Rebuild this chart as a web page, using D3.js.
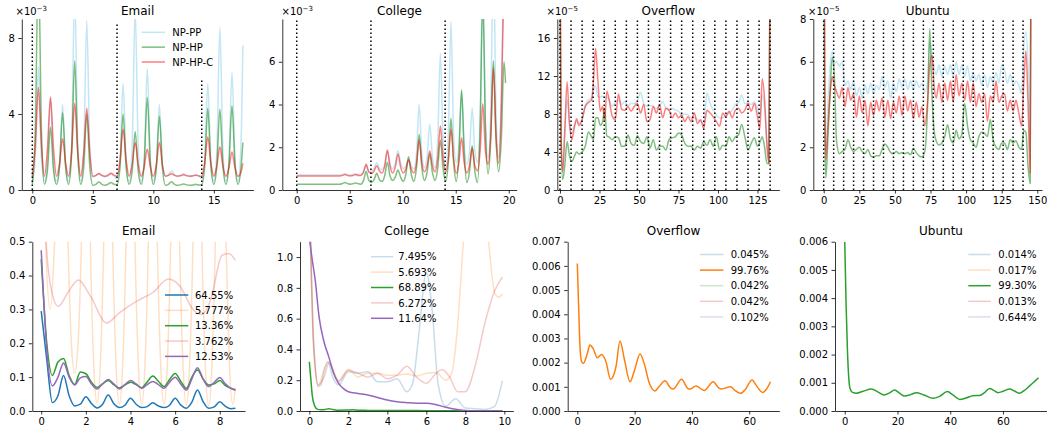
<!DOCTYPE html>
<html><head><meta charset="utf-8">
<script src="https://cdn.jsdelivr.net/npm/d3@7"></script>
<style>body{margin:0;background:#fff} svg{display:block} text{font-family:"DejaVu Sans",sans-serif;fill:#000}</style>
</head><body><script>
// ---------------- DATA ----------------
const topSeriesNames = ["NP-PP","NP-HP","NP-HP-C"];
const titles = ["Email","College","Overflow","Ubuntu"];

// Email (top), values x1e-3
const emailTopX = [0,0.25,0.5,0.75,1,1.25,1.5,1.75,2,2.25,2.5,2.75,3,3.25,3.5,3.75,4,4.25,4.5,4.75,5,5.25,5.5,5.75,6,6.25,6.5,6.75,7,7.25,7.5,7.75,8,8.25,8.5,8.75,9,9.25,9.5,9.75,10,10.25,10.5,10.75,11,11.25,11.5,11.75,12,12.25,12.5,12.75,13,13.25,13.5,13.75,14,14.25,14.5,14.75,15,15.25,15.5,15.75,16,16.25,16.5,16.75,17,17.25,17.4];
const emailTopPP = [0.45,1.66,6.5,1.66, 0.45,1.32,4.8,1.32, 0.45,1.26,4.5,1.26, 0.45,2.46,10.5,2.46, 0.45,2.14,8.9,2.14, 0.7,0.74,0.9,0.74, 0.7,0.73,0.85,0.73, 0.6,1.6,5.6,1.6, 0.45,2.26,9.5,2.26, 0.45,1.64,6.4,1.64, 0.45,1.26,4.5,1.26, 0.75,0.8,1.0,0.8, 0.75,0.77,0.85,0.77, 0.75,0.76,0.8,0.76, 0.6,1.6,5.6,1.6, 0.45,2.07,8.56,2.07, 0.45,1.6,6.2,1.6, 0.45,2.5,7.6];
const emailTopHP = [0.3,3.2,12,3.2, 0.3,1.05,3.3,1.05, 0.3,1.24,4.07,1.24, 0.3,1.93,6.8,1.93, 0.3,1.23,4.0,1.23, 0.25,0.3,0.42,0.3, 0.25,0.3,0.4,0.3, 0.28,1.21,4.0,1.21, 0.3,0.99,3.07,0.99, 0.3,1.45,4.88,1.45, 0.3,1.2,3.9,1.2, 0.25,0.3,0.44,0.3, 0.25,0.27,0.32,0.27, 0.25,0.26,0.3,0.26, 0.28,1.3,4.3,1.3, 0.3,1.29,4.26,1.29, 0.3,1.34,4.44,1.34, 0.3,1.2,2.5];
const emailTopHPC = [0.72,2.36,5.4,2.36, 0.72,2.18,4.9,2.18, 0.72,1.41,2.7,1.41, 0.72,2.06,4.56,2.06, 0.72,1.97,4.3,1.97, 0.72,0.77,0.85,0.77, 0.72,0.78,0.88,0.78, 0.72,1.59,3.2,1.59, 0.72,1.34,2.5,1.34, 0.72,1.22,2.16,1.22, 0.72,1.34,2.5,1.34, 0.72,0.77,0.85,0.77, 0.72,0.75,0.8,0.75, 0.72,0.74,0.78,0.74, 0.72,1.45,2.8,1.45, 0.72,1.27,2.28,1.27, 0.72,1.17,2.0,1.17, 0.72,0.95,1.4];
const emailWeekX = [0,7,14];
const emailWeekTop = [8.74,8.74,5.84];

// College (top), values x1e-3
const collegeTopX = [0,1,2,3, 4.05,4.3,4.55,4.8, 5.05,5.3,5.55,5.8, 6.05,6.3,6.55,6.8, 7.05,7.3,7.55,7.8, 8.05,8.3,8.55,8.8, 9.05,9.3,9.55,9.8, 10.05,10.3,10.55,10.8, 11.05,11.3,11.55,11.8, 12.05,12.3,12.55,12.8, 13.05,13.3,13.55,13.8, 14.05,14.3,14.55,14.8, 15.05,15.3,15.55,15.8, 16.05,16.3,16.55,16.8, 17.05,17.3,17.55,17.8, 18.05,18.3,18.55,18.8, 19.05,19.3,19.55,19.7];
const collegeTopPP = [0.7,0.7,0.7,0.7, 0.7,0.72,0.76,0.72, 0.7,0.72,0.75,0.72, 0.72,0.85,1.15,0.85, 0.9,1.01,1.28,1.01, 0.95,1.2,1.8,1.2, 1.0,1.25,1.84,1.25, 1.0,1.13,1.44,1.13, 1.0,1.7,4.0,1.7, 1.05,1.55,3.08,1.55, 1.05,2.3,6.4,2.3, 1.0,2.6,7.9,2.6, 1.3,2.1,4.6,2.1, 1.2,1.85,3.83,1.85, 1.3,3.3,10,3.3, 1.5,3.7,11,3.7, 1.5,4.5,11,12];
const collegeTopHP = [0.27,0.27,0.27,0.27, 0.27,0.3,0.35,0.3, 0.27,0.29,0.33,0.29, 0.27,0.45,0.86,0.45, 0.35,0.48,0.78,0.48, 0.4,0.67,1.3,0.67, 0.45,0.6,0.94,0.6, 0.4,0.75,1.56,0.75, 0.4,1.06,2.6,1.06, 0.45,0.83,1.7,0.83, 0.45,1.02,2.34,1.02, 0.4,1.29,3.36,1.29, 0.4,1.69,4.69,1.69, 0.35,0.87,2.08,0.87, 0.35,2.95,9,2.95, 0.75,2.34,6.05,2.34, 0.85,2.4,6.0,5];
const collegeTopHPC = [0.66,0.66,0.66,0.66, 0.66,0.68,0.72,0.68, 0.66,0.68,0.72,0.68, 0.68,0.84,1.2,0.84, 0.78,0.89,1.14,0.89, 0.8,1.12,1.87,1.12, 0.8,1.07,1.69,1.07, 0.8,0.98,1.4,0.98, 0.8,1.26,2.34,1.26, 0.85,1.14,1.83,1.14, 0.85,1.5,3.0,1.5, 0.85,1.45,2.84,1.45, 0.78,1.28,2.45,1.28, 0.8,1.15,1.95,1.15, 0.9,1.84,4.03,1.84, 1.2,2.56,5.73,2.56, 1.25,3.9,10,12];
const collegeWeekX = [0,7,14];
const collegeWeekTop = [8,8,8];

// Overflow (top), values x1e-5
const overflowTopX = [0,0.7,1.7,3,4.5,6,7.5,9,10.5,12,14,16,18,20,21.2,22.5,24,25.5,27,28.3,29.6,31,33,35,37,39,41,43,45,47,49,51,53,55,57,59,61,63,65,67,69,71,73,75,77,79,81,83,85,87,89,91,93,95,97,99,101,103,105,107,109,111,113,115,117,119,121,123,125,126.5,128,129.5,131,132.2,133];
const overflowTopPP = [25,6,2.2,6,9.5,7,6,6.8,7.2,7.0, 7.5,8.8,9.5,9.6,10.5,11,9.8,9.8,9.9,9.7, 9.8,9.5,8.8,9.2,9.5,9.0,9.3,8.9,9.1,9.1, 9.4,10.3,9.1,8.8,8.9,8.8,8.6,8.9,9.3,8.6, 8.4,8.6,8.4,8.3,7.9,8.0,7.9,7.6,7.6,7.4, 7.2,7.0,10.2,9.1,8.4,7.9,7.6,7.6,7.9,8.1, 8.4,9.0,9.2,10.0,9.1,9.2,9.0,9.3,8.6, 7.7,10,8.5,5,3,25];
const overflowTopHP = [25,5,1.1,2.5,5.1,3.6,3.0,3.5,4.0,3.8, 4.0,4.6,6.1,5.6,5.3,7.6,7.6,6.8,7.2,8.6, 5.7,5.6,5.3,5.6,5.5,4.6,4.6,5.8,4.9,4.7, 5.7,5.1,4.9,5.6,4.4,5.3,4.2,4.6,4.6,4.2, 5.3,5.5,5.6,6.0,5.8,4.9,4.6,4.6,4.2,4.6, 4.4,5.1,4.7,5.3,4.6,5.6,4.2,4.7,4.6,5.6, 5.1,5.6,5.8,6.9,5.6,4.2,4.9,5.5,4.6, 5.0,5.6,4.5,2.8,2.8,25];
const overflowTopHPC = [25,6,1.9,6,11.4,7,5.3,6.5,7.5,6.8, 7.4,8.8,9.2,9.5,11.5,14.9,11.5,8.3,8.8,7.3, 10.4,9.6,7.8,7.4,10.1,8.5,8.4,8.8,8.3,8.8, 9.1,8.1,9.0,7.2,7.4,8.8,8.1,9.0,7.6,8.6, 8.4,7.6,8.1,7.6,7.9,7.2,7.7,7.2,8.1,7.0, 7.4,6.5,8.4,8.1,7.7,7.2,6.7,8.1,7.7,8.3, 7.6,8.4,8.6,8.1,8.4,9.1,8.3,9.1,7.7, 6.4,11.7,9.5,4.6,2.8,25];
const overflowWeekX = [0,7,14,21,28,35,42,49,56,63,70,77,84,91,98,105,112,119,126,133];

// Ubuntu (top), values x1e-5
const ubuntuTopX = [0,0.7,1.5,3,4.5,6,7.5,9, 11,13,15,17,19,21,23,25,27,29,31,33,35,37,39,41,43,45,47,49,51,53,55,57,59,61,63,65,67,69,71, 73,74.5,76,77.5, 79,81,83,85,87,89,91,93,95,97,99,101,103,105,107,109,111,113,115,117,119,121,123,125,127,129,131,133,135,137,139, 140.5,142,143.5,145,146];
const ubuntuTopPP = [20,6,1.8,4.0,5.8,6.5,5.9,6.0, 5.8,6.0,4.9,5.1,4.7,5.1,4.4,4.8,4.3,4.9,4.5,5.0,4.5,4.9,4.7,5.3,4.8,5.1,4.3,5.0,4.6,5.2,4.8,5.2,4.7,5.1,4.7,5.1,4.8,5.0,4.6, 5.1,6.9,6.3,5.7, 5.4,5.85,5.3,5.8,5.4,5.85,5.3,6.0,5.4,5.85,5.3,5.8,5.1,5.5,5.1,5.4,4.9,5.4,4.8,5.3,5.0,5.5,5.0,5.85,5.6,5.0,5.4,4.9,5.1,4.9,4.5, 6.7,7.4,5.8,1.5,20];
const ubuntuTopHP = [20,3,0.55,2.5,4.6,6.2,5.3,2.3, 1.7,1.8,1.9,2.35,2.0,1.8,1.9,2.0,1.8,1.7,1.9,1.6,1.55,1.6,1.6,1.9,2.15,2.0,1.75,1.7,1.8,1.7,1.75,1.7,1.75,1.65,1.95,1.75,1.6,1.55,1.8, 4.0,7.55,4.5,2.8, 2.3,2.1,2.2,2.5,3.05,2.4,2.2,2.8,2.4,2.6,4.05,3.0,2.35,2.2,2.0,2.5,2.7,2.65,2.5,3.3,2.35,2.0,1.9,2.2,2.2,1.9,2.35,2.2,2.3,2.0,1.9, 2.8,2.7,1.1,0.3,20];
const ubuntuTopHPC = [20,6,1.4,3.0,4.5,5.3,4.9,4.6, 4.3,4.8,3.9,4.8,4.2,4.5,3.4,4.4,3.6,4.2,3.0,4.1,3.5,4.2,3.7,4.3,3.4,4.2,3.35,4.1,3.6,4.4,3.5,4.4,3.7,4.2,3.35,4.1,3.4,3.9,3.0, 4.2,5.8,6.3,4.9, 4.3,5.0,4.1,5.0,4.2,5.1,4.1,5.4,4.4,5.0,4.2,5.1,4.1,5.0,3.9,4.5,4.1,4.5,3.2,4.4,4.1,5.1,4.1,4.4,4.5,3.7,4.2,3.7,4.2,3.6,3.0, 5.0,6.5,4.0,0.8,20];
const ubuntuWeekX = [0,7,14,21,28,35,42,49,56,63,70,77,84,91,98,105,112,119,126,133,140];

// Bottom row
const emailShares = ["64.55%","5.777%","13.36%","3.762%","12.53%"];
const collegeShares = ["7.495%","5.693%","68.89%","6.272%","11.64%"];
const overflowShares = ["0.045%","99.76%","0.042%","0.042%","0.102%"];
const ubuntuShares = ["0.014%","0.017%","99.30%","0.013%","0.644%"];

const emailBotX = [0,0.25,0.5,0.75,1,1.25,1.5,1.75,2,2.25,2.5,2.75,3,3.25,3.5,3.75,4,4.25,4.5,4.75,5,5.25,5.5,5.75,6,6.25,6.5,6.75,7,7.25,7.5,7.75,8,8.25,8.5,8.7];
const emailBotBlue = [0.295,0.15,0.025,0.045,0.105,0.045,0.015,0.02,0.042,0.022,0.009,0.02,0.047,0.022,0.01,0.017,0.038,0.02,0.01,0.013,0.024,0.015,0.01,0.017,0.038,0.018,0.008,0.026,0.062,0.028,0.008,0.012,0.027,0.014,0.007,0.008];
const emailBotGreen = [0.448,0.2,0.105,0.145,0.155,0.105,0.078,0.115,0.11,0.085,0.07,0.08,0.09,0.078,0.068,0.077,0.085,0.078,0.069,0.086,0.103,0.088,0.072,0.093,0.111,0.088,0.067,0.1,0.121,0.095,0.077,0.08,0.09,0.075,0.067,0.062];
const emailBotPurple = [0.475,0.18,0.074,0.1,0.142,0.1,0.077,0.098,0.102,0.08,0.065,0.08,0.093,0.08,0.065,0.078,0.09,0.08,0.067,0.078,0.087,0.078,0.067,0.085,0.1,0.08,0.062,0.095,0.128,0.095,0.072,0.085,0.099,0.08,0.067,0.062];
const emailBotRedX = [0,0.22,0.45,0.76,1.2,1.66,2.2,2.93,3.5,4.3,5.0,5.7,6.2,6.8,7.2,7.6,8.1,8.4,8.7];
const emailBotRed = [0.9,0.5,0.36,0.309,0.35,0.387,0.34,0.26,0.29,0.325,0.35,0.39,0.37,0.3,0.285,0.33,0.46,0.465,0.445];
const emailBotOrangeX = [0,0.2,0.4,0.6,0.95,1.2,1.35,1.5,1.65,1.8,2.0,2.2,2.35,2.5,2.65,2.8,3.0,3.2,3.35,3.5,3.65,3.8,4.0,4.2,4.35,4.5,4.65,4.8,5.0,5.2,5.35,5.5,5.65,5.8,6.0,6.2,6.35,6.5,6.65,6.8,7.0,7.2,7.35,7.5,7.65,7.8,8.0,8.28,8.43,8.58,8.7];
const emailBotOrange = [1.3,0.5,0.3,0.5,1.4,0.5,0.2,0.112,0.2,0.5,1.4,0.5,0.14,0.024,0.14,0.5,1.4,0.5,0.14,0.02,0.14,0.5,1.4,0.5,0.14,0.02,0.14,0.5,1.4,0.5,0.14,0.02,0.14,0.5,1.4,0.5,0.14,0.018,0.14,0.5,1.4,0.5,0.14,0.016,0.14,0.5,1.4,0.5,0.14,0.02,0.07];

const collegeBotPurpleX = [0,0.15,0.3,0.5,0.75,1.0,1.25,1.5,1.75,2.0,2.5,3.0,3.5,4.0,4.5,5.0,5.5,6.0,6.5,7.0,7.5,8.0,8.5,9.0,9.5,9.9];
const collegeBotPurple = [1.12,0.98,0.85,0.61,0.45,0.35,0.244,0.18,0.145,0.125,0.114,0.104,0.088,0.071,0.06,0.054,0.05,0.05,0.041,0.024,0.011,0.004,0.002,0.002,0.002,0.002];
const collegeBotGreenX = [0,0.08,0.15,0.25,0.4,0.6,0.8,1.0,1.2,1.5,2.0,2.2,2.5,3,4,5,6,7,8,9,9.9];
const collegeBotGreen = [0.32,0.2,0.1,0.04,0.012,0.008,0.01,0.015,0.01,0.005,0.006,0.008,0.005,0.004,0.003,0.003,0.002,0.002,0.001,0.001,0.001];
const collegeBotBlueX = [0,0.1,0.2,0.3,0.45,0.6,0.75,0.95,1.2,1.5,2.0,2.5,3.0,3.5,4.0,4.5,5.0,5.3,5.6,6.0,6.3,6.6,7.0,7.5,8.0,8.5,9.0,9.5,9.9];
const collegeBotBlue = [1.5,0.9,0.5,0.3,0.16,0.17,0.26,0.32,0.22,0.17,0.255,0.245,0.255,0.19,0.19,0.21,0.125,0.18,0.48,0.9,0.655,0.18,0.03,0.08,0.02,0.015,0.01,0.03,0.197];
const collegeBotRedX = [0,0.1,0.2,0.45,0.75,1.0,1.5,2.0,2.5,3.0,3.5,4.0,4.5,5.0,5.5,6.0,6.5,6.8,7.2,7.6,8.0,8.5,9.0,9.5,9.9];
const collegeBotRed = [1.5,0.9,0.48,0.17,0.22,0.31,0.19,0.265,0.245,0.22,0.245,0.21,0.233,0.29,0.22,0.18,0.245,0.27,0.22,0.125,0.125,0.29,0.57,0.78,0.87];
const collegeBotOrangeX = [0,0.1,0.2,0.45,0.75,1.0,1.5,2.0,2.5,3.0,3.5,4.0,4.5,5.0,5.5,6.0,6.5,7.0,7.3,7.6,7.9,8.5,9.2,9.5,9.7,9.9];
const collegeBotOrange = [1.5,0.9,0.44,0.16,0.27,0.32,0.2,0.27,0.22,0.245,0.245,0.233,0.233,0.24,0.227,0.245,0.25,0.2,0.245,0.55,1.1,1.9,1.09,0.77,0.74,0.76];

const overflowBotX = [0,0.5,1,1.5,2.1,3.5,4.4,5.5,7,8.5,10,11.6,13.5,14.9,16.5,18.4,20,21.9,23.5,25,27.1,28.5,30.6,32.5,33.5,36.4,38.5,39.3,41.4,44.3,47.4,49.5,50.3,53.5,55,57,58.5,61,62.5,64.7,66,67.4];
const overflowBotOrange = [0.0061,0.0042,0.00252,0.00204,0.00197,0.00238,0.00273,0.00259,0.0022,0.00234,0.00204,0.00131,0.00183,0.00289,0.0021,0.00121,0.0017,0.00236,0.0019,0.0012,0.00083,0.001,0.00125,0.00096,0.00091,0.00131,0.00094,0.00091,0.00103,0.00085,0.00121,0.00094,0.00091,0.001,0.00085,0.00073,0.00087,0.00128,0.00105,0.00077,0.0009,0.00121];

const ubuntuBotX = [0,0.5,1,1.5,2,3,4.4,7,10.1,12.5,14.9,17,18.9,20.8,22.7,25,27.1,30,33.5,36,38.9,41,43.6,46,48.6,51.1,53,54.9,56.5,58.1,60.3,62.5,64.5,66.3,68,70,72,73.5];
const ubuntuBotGreen = [0.006,0.0038,0.0022,0.0012,0.0008,0.00066,0.00063,0.0007,0.00078,0.00068,0.00057,0.00064,0.00074,0.00063,0.00053,0.00058,0.00065,0.00057,0.00045,0.00052,0.00069,0.00057,0.00041,0.00046,0.00054,0.00055,0.00065,0.0008,0.00073,0.00065,0.00071,0.00078,0.0007,0.00063,0.00072,0.00088,0.00105,0.00118];

// ---------------- DRAWING ----------------
const C = {pp:"#87ceeb", hp:"#008000", hpc:"#ff0000",
  blue:"#1f77b4", orange:"#ff7f0e", green:"#2ca02c", red:"#d62728", purple:"#9467bd"};
const svg = d3.select("body").append("svg").attr("width",1047).attr("height",431);
let cid = 0;

function makePanel(o){
  const x = d3.scaleLinear().domain(o.xd).range(o.px);
  const y = d3.scaleLinear().domain(o.yd).range([o.py[1], o.py[0]]);
  const id = "clip" + (cid++);
  svg.append("clipPath").attr("id", id).append("rect")
    .attr("x", o.px[0]).attr("y", o.py[0]).attr("width", o.px[1]-o.px[0]).attr("height", o.py[1]-o.py[0]);
  const plot = svg.append("g").attr("clip-path", `url(#${id})`);
  const xa = svg.append("g").attr("transform", `translate(0,${o.py[1]})`)
    .call(d3.axisBottom(x).tickValues(o.xt).tickFormat(d3.format("d")).tickSizeInner(3.5).tickSizeOuter(0).tickPadding(3.5));
  const ya = svg.append("g").attr("transform", `translate(${o.px[0]},0)`)
    .call(d3.axisLeft(y).tickValues(o.yt).tickFormat(o.yf).tickSizeInner(3.5).tickSizeOuter(0).tickPadding(3.5));
  [xa, ya].forEach(a => {
    a.attr("font-family", "DejaVu Sans").attr("font-size", 10);
    a.select("path.domain").attr("stroke", "#000").attr("stroke-width", 0.8);
    a.selectAll(".tick line").attr("stroke", "#000").attr("stroke-width", 0.8);
    a.selectAll(".tick text").attr("fill", "#000");
  });
  svg.append("text").attr("x", (o.px[0]+o.px[1])/2).attr("y", o.ty)
    .attr("text-anchor", "middle").style("font-size", "12px").text(o.title);
  if (o.exp) {
    const t = svg.append("text").attr("x", o.ox).attr("y", o.py[0]-4).style("font-size", "10px");
    t.append("tspan").text("\u00d710");
    t.append("tspan").attr("dy", -4.5).style("font-size", "7px").text("\u2212" + o.exp);
  }
  return {x, y, plot};
}

function drawLine(p, xs, ys, color, op, w){
  const line = d3.line().x((d,i) => p.x(xs[i])).y(d => p.y(d)).curve(d3.curveMonotoneX);
  p.plot.append("path").datum(ys).attr("d", line).attr("fill", "none")
    .attr("stroke", color).attr("stroke-opacity", op).attr("stroke-width", w || 1.5)
    .attr("stroke-linejoin", "round");
}
function drawWeeks(p, xs, tops){
  xs.forEach((v, i) => {
    p.plot.append("line").attr("x1", p.x(v)).attr("x2", p.x(v))
      .attr("y1", p.y(0)).attr("y2", p.y(Array.isArray(tops) ? tops[i] : tops))
      .attr("stroke", "#000").attr("stroke-width", 1.5).attr("stroke-dasharray", "1.5,2.5");
  });
}
function legend(items, lx0, lx1, tx, y0, dy){
  items.forEach((it, i) => {
    const yy = y0 + i*dy;
    svg.append("line").attr("x1", lx0).attr("x2", lx1).attr("y1", yy).attr("y2", yy)
      .attr("stroke", it.c).attr("stroke-opacity", it.o).attr("stroke-width", 1.5);
    svg.append("text").attr("x", tx).attr("y", yy + 3.6).style("font-size", "10px").text(it.t);
  });
}

const TOPY = [19, 190], BOTY = [241.7, 411];
const intF = d3.format("d");

// ---- Top row ----
const pE = makePanel({px:[21.8,253.4], py:TOPY, xd:[-0.87,18.27], yd:[0,9], xt:[0,5,10,15], yt:[0,4,8], yf:intF, title:titles[0], ty:14.5, exp:"3", ox:15.5});
drawLine(pE, emailTopX, emailTopPP, C.pp, 0.5);
drawLine(pE, emailTopX, emailTopHP, C.hp, 0.5);
drawLine(pE, emailTopX, emailTopHPC, C.hpc, 0.5);
drawWeeks(pE, emailWeekX, emailWeekTop);
legend([{t:topSeriesNames[0], c:C.pp, o:0.5},{t:topSeriesNames[1], c:C.hp, o:0.5},{t:topSeriesNames[2], c:C.hpc, o:0.5}], 141.7, 165, 172.3, 32.3, 14.85);

const pC = makePanel({px:[282.3,516.7], py:TOPY, xd:[-1.36,20.75], yd:[0,8], xt:[0,5,10,15,20], yt:[0,2,4,6], yf:intF, title:titles[1], ty:14.5, exp:"3", ox:281.5});
drawLine(pC, collegeTopX, collegeTopPP, C.pp, 0.5);
drawLine(pC, collegeTopX, collegeTopHP, C.hp, 0.5);
drawLine(pC, collegeTopX, collegeTopHPC, C.hpc, 0.5);
drawWeeks(pC, collegeWeekX, collegeWeekTop);

const pO = makePanel({px:[557.3,779.3], py:TOPY, xd:[-1.7,138.8], yd:[0,18], xt:[0,25,50,75,100,125], yt:[0,4,8,12,16], yf:intF, title:titles[2], ty:14.5, exp:"5", ox:546.5});
drawLine(pO, overflowTopX, overflowTopPP, C.pp, 0.5);
drawLine(pO, overflowTopX, overflowTopHP, C.hp, 0.5);
drawLine(pO, overflowTopX, overflowTopHPC, C.hpc, 0.5);
drawWeeks(pO, overflowWeekX, 18);

const pU = makePanel({px:[813.3,1042], py:TOPY, xd:[-7.3,153.3], yd:[0,8], xt:[0,25,50,75,100,125,150], yt:[0,2,4,6,8], yf:intF, title:titles[3], ty:14.5, exp:"5", ox:808});
drawLine(pU, ubuntuTopX, ubuntuTopPP, C.pp, 0.5);
drawLine(pU, ubuntuTopX, ubuntuTopHP, C.hp, 0.5);
drawLine(pU, ubuntuTopX, ubuntuTopHPC, C.hpc, 0.5);
drawWeeks(pU, ubuntuWeekX, 8);

// ---- Bottom row ----
const FA = 0.25;
const f1 = d3.format(".1f"), f3 = d3.format(".3f");
const bE = makePanel({px:[32.3,245], py:BOTY, xd:[-0.4,9.13], yd:[0,0.5], xt:[0,2,4,6,8], yt:[0,0.1,0.2,0.3,0.4,0.5], yf:f1, title:titles[0], ty:235});
drawLine(bE, emailBotX, emailBotBlue, C.blue, 1);
drawLine(bE, emailBotOrangeX, emailBotOrange, C.orange, FA);
drawLine(bE, emailBotX, emailBotGreen, C.green, 1);
drawLine(bE, emailBotRedX, emailBotRed, C.red, FA);
drawLine(bE, emailBotX, emailBotPurple, C.purple, 1);
legend([{t:emailShares[0],c:C.blue,o:1},{t:emailShares[1],c:C.orange,o:FA},{t:emailShares[2],c:C.green,o:1},{t:emailShares[3],c:C.red,o:FA},{t:emailShares[4],c:C.purple,o:1}], 165, 188.3, 195, 295, 15.35);

const bC = makePanel({px:[300,513.3], py:BOTY, xd:[-0.48,10.46], yd:[0,1.1], xt:[0,2,4,6,8,10], yt:[0,0.2,0.4,0.6,0.8,1.0], yf:f1, title:titles[1], ty:235});
drawLine(bC, collegeBotBlueX, collegeBotBlue, C.blue, FA);
drawLine(bC, collegeBotOrangeX, collegeBotOrange, C.orange, FA);
drawLine(bC, collegeBotGreenX, collegeBotGreen, C.green, 1);
drawLine(bC, collegeBotRedX, collegeBotRed, C.red, FA);
drawLine(bC, collegeBotPurpleX, collegeBotPurple, C.purple, 1);
legend([{t:collegeShares[0],c:C.blue,o:FA},{t:collegeShares[1],c:C.orange,o:FA},{t:collegeShares[2],c:C.green,o:1},{t:collegeShares[3],c:C.red,o:FA},{t:collegeShares[4],c:C.purple,o:1}], 371, 393.3, 398.3, 256.7, 15.4);

const bO = makePanel({px:[567.7,779.3], py:BOTY, xd:[-3.35,70.5], yd:[0,0.007], xt:[0,20,40,60], yt:[0,0.001,0.002,0.003,0.004,0.005,0.006,0.007], yf:f3, title:titles[2], ty:235});
drawLine(bO, overflowBotX, overflowBotOrange, C.orange, 1);
legend([{t:overflowShares[0],c:C.blue,o:FA},{t:overflowShares[1],c:C.orange,o:1},{t:overflowShares[2],c:C.green,o:FA},{t:overflowShares[3],c:C.red,o:FA},{t:overflowShares[4],c:C.purple,o:FA}], 700, 723.3, 730.7, 254.5, 15.6);

const bU = makePanel({px:[835,1047], py:BOTY, xd:[-3.7,76.7], yd:[0,0.006], xt:[0,20,40,60], yt:[0,0.001,0.002,0.003,0.004,0.005,0.006], yf:f3, title:titles[3], ty:235});
drawLine(bU, ubuntuBotX, ubuntuBotGreen, C.green, 1);
legend([{t:ubuntuShares[0],c:C.blue,o:FA},{t:ubuntuShares[1],c:C.orange,o:FA},{t:ubuntuShares[2],c:C.green,o:1},{t:ubuntuShares[3],c:C.red,o:FA},{t:ubuntuShares[4],c:C.purple,o:FA}], 968.3, 990.7, 998.3, 254.5, 15.6);
</script></body></html>
